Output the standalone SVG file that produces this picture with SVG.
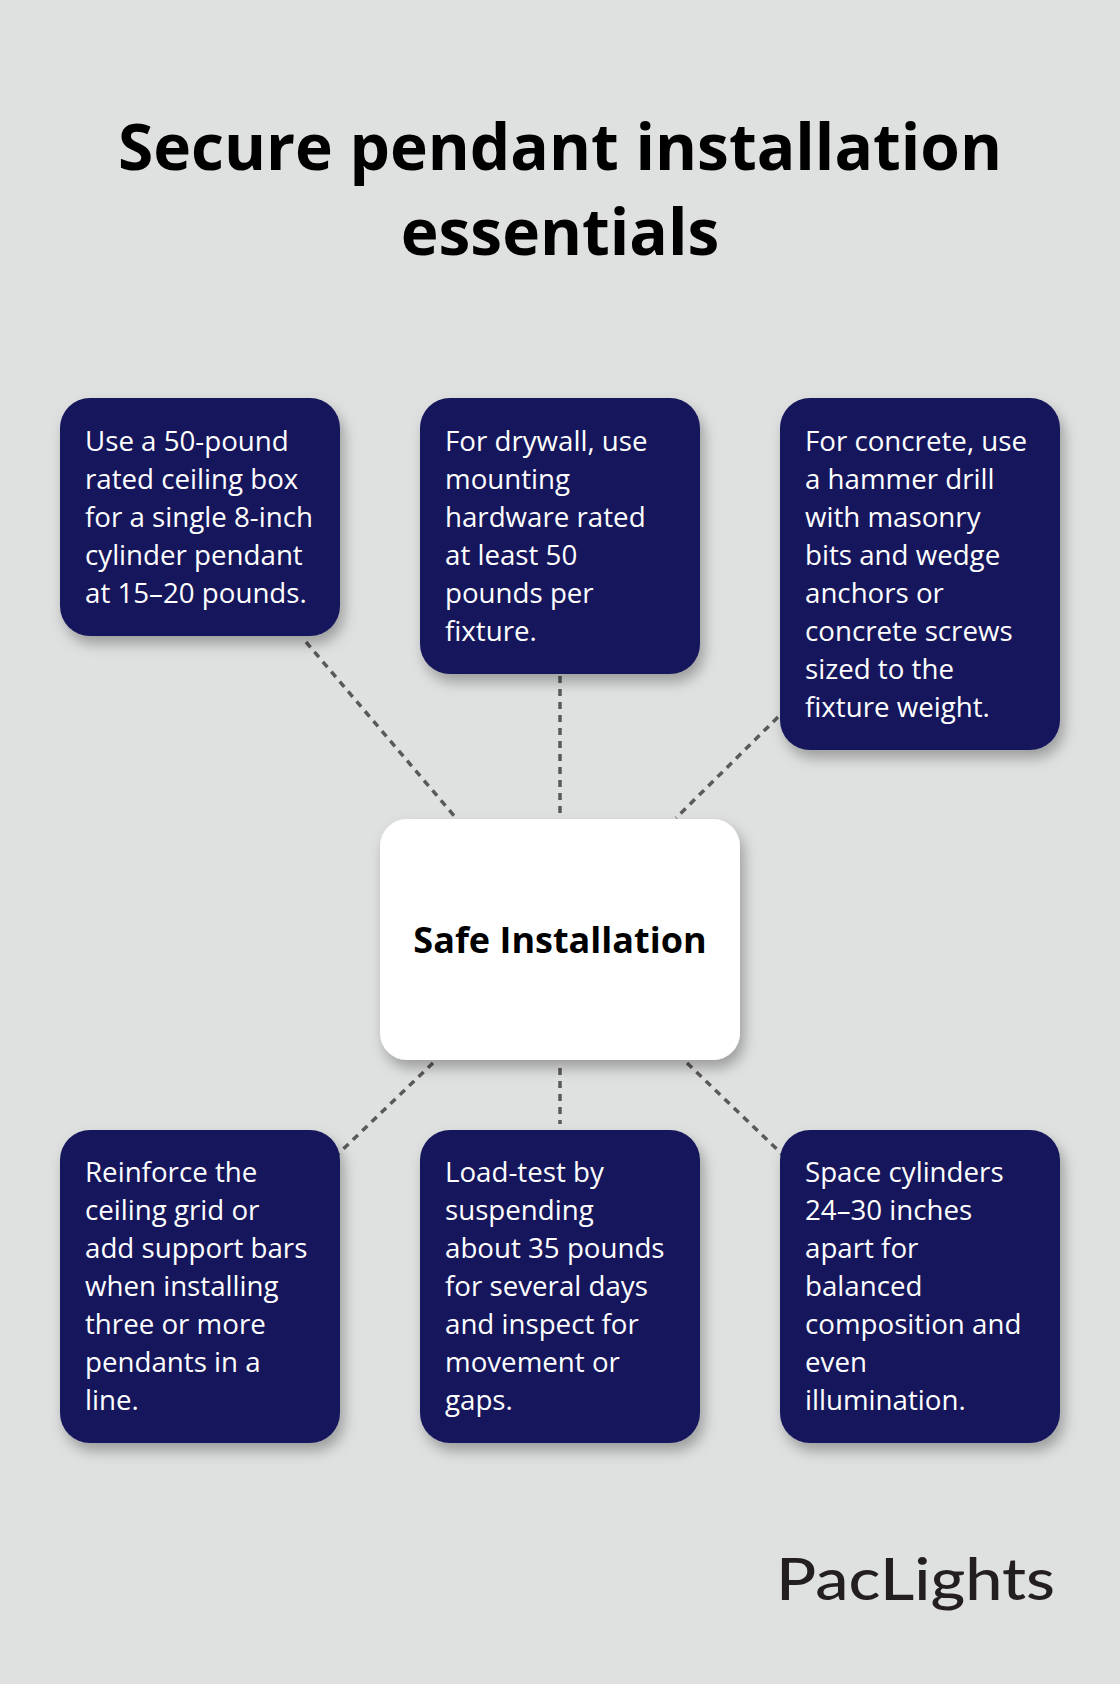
<svg xmlns="http://www.w3.org/2000/svg" width="1120" height="1684" viewBox="0 0 1120 1684">
<defs>
<filter id="sh" x="-20%" y="-20%" width="140%" height="150%"><feDropShadow dx="4" dy="8" stdDeviation="7" flood-color="#000" flood-opacity="0.3"/></filter>
</defs>
<style>
.box{fill:#16175b;filter:url(#sh)}
.t{font-family:"Open Sans","Noto Sans",sans-serif;font-size:27.7px;fill:#fff}
.c{stroke:#595959;stroke-width:3.5;stroke-dasharray:7 6;fill:none}
</style>
<rect width="1120" height="1684" fill="#dfe1e0"/>
<g font-family="'Open Sans','Noto Sans',sans-serif" font-weight="700" font-size="64" fill="#000" text-anchor="middle">
<text x="560" y="170">Secure pendant installation</text>
<text x="560" y="255">essentials</text>
</g>
<g id="connectors">
<line class="c" x1="306" y1="642" x2="456" y2="818"/>
<line class="c" x1="560" y1="676" x2="560" y2="813"/>
<line class="c" x1="778" y1="717" x2="676" y2="818"/>
<line class="c" x1="433" y1="1063" x2="336" y2="1156"/>
<line class="c" x1="560" y1="1068" x2="560" y2="1124"/>
<line class="c" x1="687" y1="1063" x2="784" y2="1156"/>
</g>
<g id="center">
<rect x="380" y="819" width="360" height="241" rx="27" fill="#fff" filter="url(#sh)"/>
<text x="560" y="953" text-anchor="middle" font-family="'Open Sans','Noto Sans',sans-serif" font-weight="700" font-size="36" fill="#000">Safe Installation</text>
</g>
<g id="n1"><rect class="box" x="60" y="398" width="280" height="238" rx="30"/>
<text class="t"><tspan x="85" y="451">Use a 50-pound</tspan><tspan x="85" dy="38">rated ceiling box</tspan><tspan x="85" dy="38">for a single 8-inch</tspan><tspan x="85" dy="38">cylinder pendant</tspan><tspan x="85" dy="38">at 15–20 pounds.</tspan></text></g>
<g id="n2"><rect class="box" x="420" y="398" width="280" height="276" rx="30"/>
<text class="t"><tspan x="445" y="451">For drywall, use</tspan><tspan x="445" dy="38">mounting</tspan><tspan x="445" dy="38">hardware rated</tspan><tspan x="445" dy="38">at least 50</tspan><tspan x="445" dy="38">pounds per</tspan><tspan x="445" dy="38">fixture.</tspan></text></g>
<g id="n3"><rect class="box" x="780" y="398" width="280" height="352" rx="30"/>
<text class="t"><tspan x="805" y="451">For concrete, use</tspan><tspan x="805" dy="38">a hammer drill</tspan><tspan x="805" dy="38">with masonry</tspan><tspan x="805" dy="38">bits and wedge</tspan><tspan x="805" dy="38">anchors or</tspan><tspan x="805" dy="38">concrete screws</tspan><tspan x="805" dy="38">sized to the</tspan><tspan x="805" dy="38">fixture weight.</tspan></text></g>
<g id="n4"><rect class="box" x="60" y="1130" width="280" height="313" rx="30"/>
<text class="t"><tspan x="85" y="1182">Reinforce the</tspan><tspan x="85" dy="38">ceiling grid or</tspan><tspan x="85" dy="38">add support bars</tspan><tspan x="85" dy="38">when installing</tspan><tspan x="85" dy="38">three or more</tspan><tspan x="85" dy="38">pendants in a</tspan><tspan x="85" dy="38">line.</tspan></text></g>
<g id="n5"><rect class="box" x="420" y="1130" width="280" height="313" rx="30"/>
<text class="t"><tspan x="445" y="1182">Load-test by</tspan><tspan x="445" dy="38">suspending</tspan><tspan x="445" dy="38">about 35 pounds</tspan><tspan x="445" dy="38">for several days</tspan><tspan x="445" dy="38">and inspect for</tspan><tspan x="445" dy="38">movement or</tspan><tspan x="445" dy="38">gaps.</tspan></text></g>
<g id="n6"><rect class="box" x="780" y="1130" width="280" height="313" rx="30"/>
<text class="t"><tspan x="805" y="1182">Space cylinders</tspan><tspan x="805" dy="38">24–30 inches</tspan><tspan x="805" dy="38">apart for</tspan><tspan x="805" dy="38">balanced</tspan><tspan x="805" dy="38">composition and</tspan><tspan x="805" dy="38">even</tspan><tspan x="805" dy="38">illumination.</tspan></text></g>
<text x="776" y="1600" font-family="Lato,'Noto Sans',sans-serif" font-weight="500" font-size="58" fill="#231f20" textLength="279" lengthAdjust="spacingAndGlyphs">PacLights</text>
</svg>
